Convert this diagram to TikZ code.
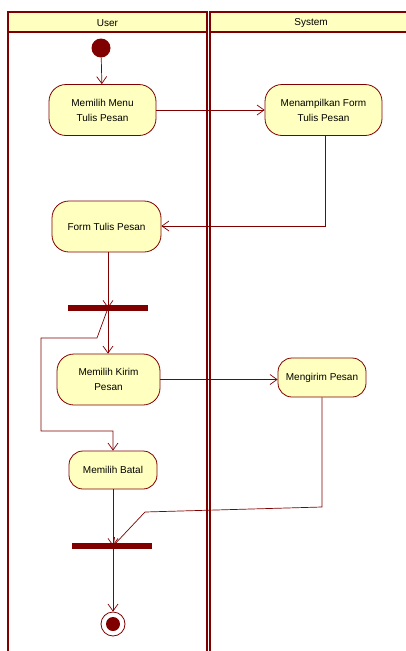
\documentclass[tikz,border=0pt]{standalone}
\usepackage{fontspec}
\setmainfont{Liberation Sans}
\usetikzlibrary{arrows.meta}
\definecolor{umlline}{HTML}{800000}
\definecolor{umlfill}{HTML}{FFFFC0}
\begin{document}
\begin{tikzpicture}[x=1pt,y=-1pt,
  lane/.style={draw=umlline,line width=1.4pt},
  lanehead/.style={draw=umlline,line width=1.4pt,fill=umlfill},
  action/.style={draw=umlline,fill=umlfill,line width=0.8pt,rounded corners=17pt,
    inner sep=0pt,align=center,font=\fontsize{10}{15}\selectfont},
  bar/.style={fill=umlline,inner sep=0pt,minimum width=80pt,minimum height=6pt},
  flow/.style={draw=umlline,line width=0.7pt,-{Straight Barb[length=7pt,width=10pt,line width=0.7pt]}},
  flowline/.style={draw=umlline,line width=0.7pt}]
\useasboundingbox (0,0) rectangle (406,651);
\begin{scope}
\clip (0,0) rectangle (406,651);
% swimlanes
\draw[lane] (8,12) rectangle (207,660);
\draw[lanehead] (8,12) rectangle (207,32);
\draw[lane] (210,12) rectangle (412,660);
\draw[lanehead] (210,12) rectangle (412,32);
\node[font=\fontsize{10}{12}\selectfont] (userhead) at (107.5,23.5) {User};
\node[font=\fontsize{10}{12}\selectfont] (syshead) at (311,23.5) {System};
\end{scope}

% initial node
\node[circle,fill=umlline,inner sep=0pt,minimum size=19pt] (start) at (101,48) {};

% actions
\node[action,minimum width=107pt,minimum height=51pt] (menu) at (102.5,110) {Memilih Menu\\Tulis Pesan};
\node[action,minimum width=117pt,minimum height=51pt] (tampil) at (323.5,110) {Menampilkan Form\\Tulis Pesan};
\node[action,minimum width=109pt,minimum height=51pt] (form) at (106.5,226.5) {Form Tulis Pesan};
\node[bar] (fork) at (108,308) {};
\node[action,minimum width=103pt,minimum height=51pt] (kirim) at (108.5,379.5) {Memilih Kirim\\Pesan};
\node[action,minimum width=88pt,minimum height=39pt,rounded corners=14pt] (kirimsys) at (322,377.5) {Mengirim Pesan};
\node[action,minimum width=88pt,minimum height=38pt,rounded corners=14pt] (batal) at (113,470) {Memilih Batal};
\node[bar] (join) at (112,546) {};

% final node
\node[circle,draw=umlline,fill=white,line width=0.8pt,inner sep=0pt,minimum size=24pt] (end) at (113,624) {};
\node[circle,fill=umlline,inner sep=0pt,minimum size=14pt] (endin) at (end.center) {};

% waypoints
\coordinate (c1) at (325,226);
\coordinate (f1) at (97,338);
\coordinate (f2) at (41,338);
\coordinate (f3) at (41,431);
\coordinate (f4) at (113,431);
\coordinate (j1) at (322,507);
\coordinate (j2) at (145,512);

% control flows
\draw[flow] (start) -- (menu);
\draw[flow] (menu.east) -- (tampil.west);
\draw[flow] (tampil.south -| c1) -- (c1) -- (form.east |- c1);
\draw[flow] (form.south -| fork.north) -- (fork.center);
\draw[flow] (fork.center) -- (kirim.north -| fork.center);
\draw[flow] (fork.center) -- (f1) -- (f2) -- (f3) -- (f4) -- (batal.north -| f4);
\draw[flow] (kirim.east) -- (kirimsys.west |- kirim.east);
\draw[flow] (kirimsys.south) -- (j1) -- (j2) -- (join.center -| batal.south);
\draw[flow] (batal.south) -- (join.center -| batal.south);
\draw[flow] (join.center -| batal.south) -- (end.north);
\end{tikzpicture}
\end{document}
